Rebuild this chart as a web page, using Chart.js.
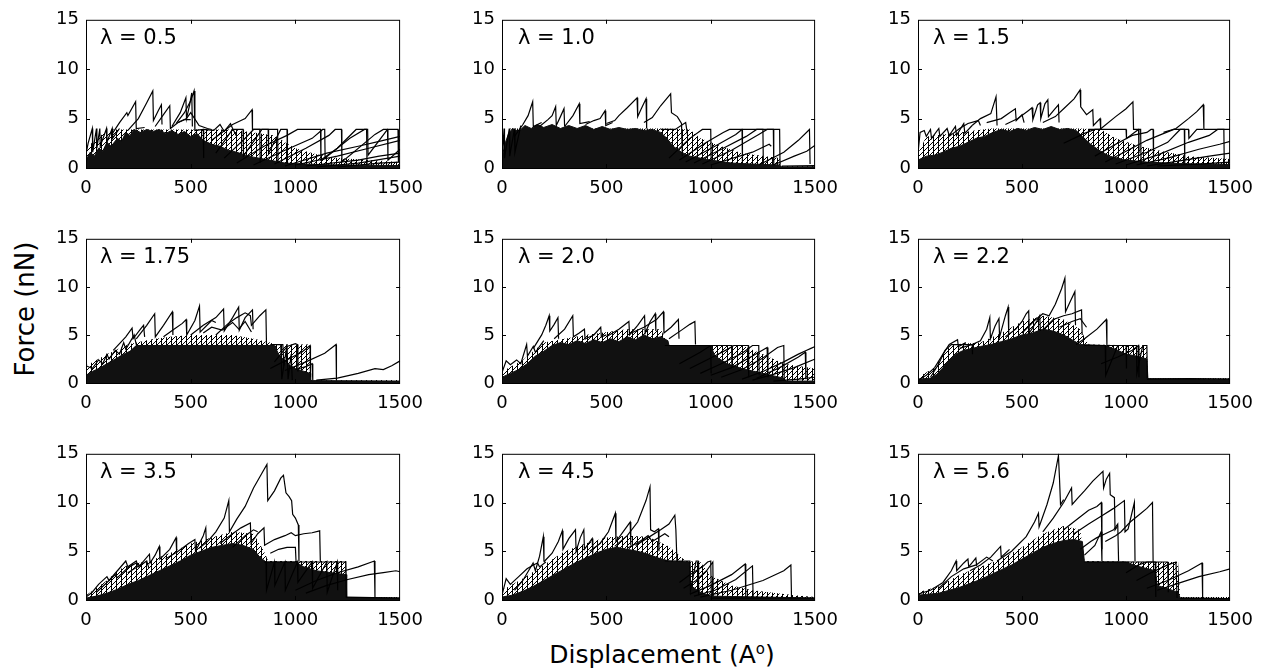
<!DOCTYPE html>
<html>
<head>
<meta charset="utf-8">
<script src="https://cdn.jsdelivr.net/npm/chart.js@4.4.1/dist/chart.umd.min.js"></script>
<style>
  body { margin: 0; background: #fff; width: 1266px; height: 670px; position: relative; overflow: hidden;
         font-family: "DejaVu Sans", sans-serif; color: #000; }
  canvas { position: absolute; }
  .lam { position: absolute; font-size: 21px; line-height: 21px; white-space: nowrap; }
  #ylab { position: absolute; left: 25px; top: 309px; font-size: 26px; line-height: 26px; white-space: nowrap;
          transform: translate(-50%, -50%) rotate(-90deg); }
  #xlab { position: absolute; left: 662px; top: 642px; font-size: 25px; line-height: 25px; white-space: nowrap;
          transform: translateX(-50%); }
  #xlab sup { font-size: 15px; vertical-align: 9px; line-height: 0; }
</style>
</head>
<body>
<div id="ylab">Force (nN)</div>
<div id="xlab">Displacement (A<sup>o</sup>)</div>
<script>
const xTicks = [0, 500, 1000, 1500];
const yTicks = [0, 5, 10, 15];
const lambdas = ['0.5', '1.0', '1.5', '1.75', '2.0', '2.2', '3.5', '4.5', '5.6'];

// upper edge of the solid black mass of overlapping curves: x, F, x, F ...
const dense05 = [0,0.8, 20,1.6, 40,1.2, 60,2.0, 80,1.7, 100,2.6, 120,2.2, 150,3.0, 170,2.7, 190,3.6, 210,3.3, 230,3.9, 260,3.6, 290,3.9, 320,3.7, 350,3.9, 380,3.5, 410,3.8, 440,3.4, 470,3.7, 500,3.2, 530,3.5, 560,2.8, 600,2.4, 640,2.2, 680,1.8, 720,1.6, 760,1.3, 800,1.1, 850,0.9, 900,0.7, 950,0.5, 1050,0.4, 1200,0.3, 1500,0.25];
const dense10 = [0,1.0, 15,2.5, 30,3.4, 50,4.0, 80,3.7, 110,4.3, 140,4.0, 170,4.4, 200,4.1, 240,4.4, 280,4.0, 320,4.3, 360,4.0, 400,4.3, 440,3.9, 480,4.2, 520,3.9, 560,4.1, 600,3.9, 640,4.0, 680,3.8, 720,3.9, 760,3.6, 790,3.0, 820,2.2, 860,1.6, 900,1.2, 1000,0.8, 1100,0.5, 1200,0.4, 1330,0.3, 1340,0.12, 1500,0.12];
const dense15 = [0,0.8, 40,1.2, 80,1.3, 120,1.6, 160,2.0, 200,2.2, 240,2.6, 280,3.0, 320,3.2, 360,3.6, 400,3.9, 440,3.7, 480,4.0, 520,3.8, 560,4.1, 600,3.9, 640,4.2, 680,3.9, 720,4.0, 760,3.8, 790,3.2, 830,2.4, 870,1.8, 920,1.2, 1000,0.8, 1100,0.6, 1250,0.45, 1500,0.35];
const dense175 = [0,0.8, 30,1.2, 60,1.5, 100,2.0, 140,2.5, 180,3.0, 210,3.3, 240,3.9, 900,3.9, 920,3.0, 960,2.0, 1000,1.5, 1070,1.0, 1073,0.25, 1500,0.2];
const dense20 = [0,0.6, 40,1.0, 80,1.4, 120,2.0, 160,2.8, 200,3.3, 240,3.9, 280,4.2, 320,4.0, 360,4.4, 400,4.1, 440,4.5, 480,4.2, 520,4.6, 560,4.3, 600,4.8, 640,4.5, 680,5.0, 720,4.6, 760,4.8, 795,4.4, 800,3.9, 1000,3.9, 1020,2.8, 1080,2.0, 1150,1.5, 1250,1.0, 1350,0.5, 1360,0.2, 1500,0.2];
const dense22 = [0,0.4, 60,0.5, 90,0.9, 120,1.6, 150,2.4, 180,3.0, 220,3.4, 260,3.6, 300,3.8, 350,4.0, 400,4.3, 450,4.6, 500,5.0, 550,5.2, 600,5.6, 650,5.4, 700,5.0, 740,4.5, 780,4.0, 900,3.9, 950,3.5, 1000,3.0, 1050,2.8, 1100,2.5, 1105,0.45, 1500,0.4];
const dense35 = [0,0.2, 50,0.4, 100,0.7, 150,1.1, 200,1.6, 250,2.0, 300,2.5, 350,3.0, 400,3.5, 450,4.0, 500,4.6, 550,5.0, 600,5.4, 650,5.6, 700,5.8, 750,5.6, 800,5.2, 830,4.4, 860,3.9, 1000,3.9, 1040,3.4, 1100,3.0, 1243,2.6, 1245,0.25, 1500,0.2];
const dense45 = [0,0.3, 50,0.5, 100,0.9, 150,1.4, 200,2.0, 250,2.6, 300,3.2, 350,3.8, 400,4.3, 450,4.8, 500,5.2, 550,5.4, 600,5.2, 650,5.0, 700,4.7, 750,4.3, 800,4.0, 900,3.9, 903,1.5, 950,0.8, 1000,0.4, 1500,0.2];
const dense56 = [0,0.5, 100,0.7, 150,1.0, 200,1.3, 250,1.7, 300,2.1, 350,2.6, 400,3.1, 450,3.6, 500,4.2, 550,4.8, 600,5.4, 650,5.8, 700,6.1, 750,6.2, 790,6.0, 800,3.9, 1000,3.9, 1050,3.5, 1140,3.0, 1150,1.5, 1250,0.8, 1260,0.2, 1500,0.15];

// upper edge of the looser zone of crossing lines
const loose05 = [0,2.0, 60,3.2, 120,3.9, 700,3.9, 800,3.6, 900,3.3, 950,2.6, 1000,2.0, 1100,1.4, 1200,1.0, 1350,0.8, 1500,0.6];
const loose10 = [0,1.5, 40,4.0, 780,4.0, 900,3.9, 950,3.0, 1050,2.2, 1150,1.5, 1330,1.0, 1335,0.2, 1500,0.2];
const loose15 = [0,1.5, 40,3.2, 200,3.6, 350,4.0, 780,4.0, 880,3.9, 950,3.0, 1050,2.3, 1150,1.8, 1300,1.2, 1500,0.9];
const loose175 = [0,1.8, 100,3.0, 200,4.0, 300,4.5, 400,4.8, 500,5.0, 600,5.0, 700,5.0, 800,4.6, 880,4.2, 900,4.0, 1070,4.0, 1073,0.3, 1500,0.3];
const loose20 = [0,1.2, 100,2.4, 200,4.2, 400,5.0, 600,5.6, 760,5.6, 800,3.9, 1150,3.9, 1250,3.0, 1350,2.0, 1500,1.5];
const loose22 = [0,0.6, 80,1.6, 130,3.2, 160,4.0, 300,4.2, 400,5.2, 500,6.4, 600,7.0, 700,6.6, 780,5.6, 820,4.0, 1100,3.9, 1105,0.5, 1500,0.5];
const loose35 = [0,0.5, 100,2.0, 150,3.0, 200,3.6, 300,4.0, 400,4.8, 500,5.8, 600,6.4, 700,7.0, 800,6.8, 850,5.0, 870,4.0, 1243,4.0, 1245,0.3, 1500,0.3];
const loose45 = [0,1.0, 100,2.2, 200,3.6, 300,5.0, 400,5.8, 500,6.4, 600,6.6, 700,6.5, 800,5.5, 880,4.0, 950,3.9, 1000,2.5, 1100,1.5, 1200,1.0, 1400,0.5, 1500,0.3];
const loose56 = [0,0.8, 100,1.4, 200,2.6, 300,3.4, 400,4.2, 500,5.4, 600,6.8, 700,7.6, 780,7.2, 800,4.0, 1140,3.9, 1250,3.9, 1260,0.3, 1500,0.3];

// single sawtooth traces that stand out of the mass
const saw05 = [
  [0,1.4, 10,2.5, 30,4.0, 32,1.6, 50,4.0, 52,2.0, 66,4.0, 68,2.2, 98,4.0, 100,2.6, 125,4.0, 127,3.0, 160,4.0],
  [120,3.3, 160,4.6, 195,5.6, 200,5.3, 237,6.7, 240,4.0, 280,4.1],
  [200,3.8, 250,5.0, 290,6.6, 319,7.8, 322,4.8, 345,5.8, 360,6.4, 363,4.4],
  [330,4.2, 370,5.4, 400,6.3, 403,4.0, 440,4.6, 470,4.9, 500,4.9],
  [410,4.2, 450,5.6, 477,7.1, 480,5.0, 495,6.4, 505,7.6, 508,4.2],
  [430,4.5, 470,5.6, 500,6.8, 516,7.8, 520,3.8, 560,3.9, 562,1.0],
  [440,4.6, 480,5.0, 500,5.6, 540,4.3, 580,4.0, 600,3.9],
  [560,3.9, 610,3.8, 640,4.4, 660,3.7, 690,4.5, 700,4.0, 720,3.2],
  [600,2.8, 650,3.6, 700,4.4, 740,4.8, 760,5.0, 793,5.9, 795,3.9, 830,3.9, 832,0.5],
  [620,1.5, 700,3.9, 750,3.9, 752,1.2, 840,3.9, 915,3.9, 917,0.5],
  [660,1.0, 760,3.0, 800,3.9, 870,3.9, 872,1.5, 930,3.9, 960,3.9, 962,0.4],
  [720,0.5, 850,2.2, 960,3.3, 1010,3.9, 1120,3.9, 1122,0.8, 1200,2.0, 1290,3.9, 1340,3.9, 1342,0.3],
  [800,0.3, 950,1.8, 1080,3.0, 1130,3.9, 1140,3.9, 1142,1.0, 1260,3.0, 1330,3.9, 1345,3.9, 1347,1.3, 1440,3.9, 1490,3.9, 1492,0.6],
  [900,0.4, 1050,2.0, 1160,3.3, 1190,3.9, 1220,3.9, 1222,0.6, 1380,3.4, 1420,3.9, 1440,3.9, 1442,0.8, 1500,1.9],
  [950,0.2, 1150,1.5, 1300,2.2, 1400,2.7, 1500,3.2],
  [1000,0.3, 1200,1.2, 1350,2.0, 1500,2.8],
  [1050,0.2, 1300,0.8, 1400,1.2, 1500,1.5],
  [1100,0.1, 1300,0.5, 1500,1.2],
  [1200,0.1, 1400,0.5, 1500,0.6]
];
const saw10 = [
  [0,0.8, 10,4.0, 12,1.0, 35,4.0, 37,1.2, 60,4.0, 62,1.6, 90,4.3],
  [60,3.2, 100,4.4, 125,5.3, 147,6.7, 150,4.2, 190,4.6],
  [180,4.2, 220,4.9, 240,5.3, 257,6.2, 260,4.3, 280,5.2, 297,6.0, 300,4.2],
  [300,4.2, 340,5.3, 370,6.5, 373,4.5, 420,4.7],
  [400,4.4, 440,4.8, 470,5.0, 494,5.8, 497,4.3, 530,4.6],
  [500,4.5, 540,4.8, 560,5.3, 600,6.1, 647,7.1, 650,5.2, 665,5.9, 690,7.0, 693,4.0],
  [680,4.6, 720,5.1, 760,6.3, 808,7.5, 812,5.6, 840,5.2, 860,4.5, 864,1.2],
  [760,3.9, 830,3.9, 880,4.6, 890,3.2],
  [800,1.0, 900,3.0, 960,3.9, 1000,3.9, 1002,0.8],
  [850,0.8, 980,2.6, 1060,3.6, 1090,3.9, 1150,3.9, 1152,0.6],
  [880,0.6, 1020,2.2, 1120,3.4, 1150,3.9, 1250,3.9, 1252,0.4],
  [920,0.5, 1060,2.0, 1170,3.2, 1220,3.9, 1330,3.9, 1332,0.3],
  [960,0.4, 1100,1.8, 1230,3.4, 1270,3.9, 1300,3.9, 1302,0.3],
  [1000,0.3, 1200,1.6, 1280,2.4, 1290,2.2],
  [1230,0.3, 1350,1.6, 1420,2.8, 1473,3.9, 1476,0.4],
  [1300,0.3, 1400,1.2, 1460,1.7, 1500,2.3],
  [1340,0.2, 1500,0.25]
];
const saw15 = [
  [0,1.5, 10,3.6, 30,3.8, 40,3.2, 60,3.9, 65,3.0, 100,4.0, 105,3.2, 140,4.0, 150,3.3, 180,4.2, 185,3.3, 220,4.5, 225,3.5, 260,4.3],
  [150,3.2, 200,4.0, 240,4.5, 290,4.8, 300,4.3],
  [260,4.3, 300,5.0, 350,5.5, 375,7.2, 380,4.3],
  [330,4.6, 400,5.0, 440,5.6, 468,6.0, 472,4.8, 500,5.4, 510,4.6],
  [420,4.4, 480,5.0, 530,5.8, 548,6.1, 552,4.9, 575,6.4, 587,6.6, 590,5.0, 610,6.5, 624,6.9, 627,5.2, 655,5.9, 675,6.4, 678,4.6],
  [600,4.6, 660,5.2, 700,6.0, 750,7.0, 779,7.9, 782,6.2, 810,5.4, 840,5.9, 843,4.3, 875,5.0, 878,3.9],
  [820,3.9, 870,3.9, 880,4.0, 950,5.2, 1000,6.0, 1033,6.7, 1036,3.9, 1060,3.9, 1062,1.5],
  [700,2.5, 800,3.5, 850,3.9, 1000,3.9, 1002,3.0, 1060,3.9, 1070,3.9, 1072,0.4],
  [850,1.2, 950,2.4, 1030,3.3, 1100,3.6, 1120,3.9, 1130,3.9, 1132,0.8],
  [900,0.6, 1000,1.7, 1100,2.8, 1170,3.4, 1230,3.9, 1280,3.9, 1282,0.4],
  [950,0.4, 1100,1.6, 1200,2.6, 1260,3.9, 1300,3.9, 1302,3.0, 1340,3.9, 1370,3.9],
  [1180,3.6, 1240,4.0, 1300,5.0, 1340,5.7, 1371,6.4, 1374,3.9, 1470,3.9, 1472,0.3],
  [1000,0.3, 1150,1.3, 1300,2.6, 1400,3.3, 1440,3.9, 1500,3.9],
  [1050,0.3, 1200,1.0, 1350,1.9, 1450,2.4, 1500,2.7],
  [1100,0.2, 1250,0.7, 1400,1.2, 1500,1.5],
  [1150,0.2, 1350,0.4, 1500,0.6]
];
const saw175 = [
  [0,1.8, 30,1.5, 60,2.4, 80,2.0, 100,3.0, 110,2.5, 140,3.4, 160,3.0, 180,4.2, 190,3.5, 230,5.0, 240,4.0],
  [130,3.4, 190,4.8, 220,5.7, 225,4.6, 260,5.6, 275,6.0, 280,4.8],
  [240,4.6, 290,6.0, 328,7.2, 331,4.8, 370,6.0, 412,7.4, 415,5.0],
  [370,4.8, 420,5.6, 460,6.2, 478,6.6, 481,5.0, 520,6.5, 542,8.0, 545,5.3, 600,6.5, 620,6.3],
  [500,5.0, 560,6.0, 620,6.8, 657,7.7, 660,5.4, 700,6.8, 729,7.9, 732,5.5, 760,6.8, 795,7.6, 798,5.6],
  [620,5.0, 680,6.2, 720,6.8, 760,7.3, 785,7.0, 790,6.0, 830,7.0, 859,7.6, 862,4.0],
  [560,5.2, 600,5.8, 650,5.5, 700,6.3, 730,5.6, 760,6.4, 790,5.3],
  [880,4.0, 940,4.0, 945,1.8],
  [900,2.2, 960,3.8, 1000,4.1, 1010,4.0, 1012,1.2],
  [880,1.5, 950,2.3, 1030,3.2, 1070,3.9, 1072,0.6],
  [950,1.3, 1050,2.2, 1140,3.1, 1194,4.0, 1196,0.3],
  [1000,1.4, 1050,1.7, 1080,2.0, 1083,0.3],
  [930,4.0, 935,0.4, 960,4.0, 965,0.4, 980,3.0, 985,0.3],
  [1100,0.3, 1200,0.5, 1300,1.0, 1380,1.5, 1420,1.4, 1460,1.8, 1500,2.3]
];
const saw20 = [
  [0,1.1, 20,2.3, 40,1.9, 70,2.4, 90,2.0, 118,4.0, 122,2.8, 150,3.8, 160,3.2, 200,4.4],
  [150,3.6, 190,5.0, 210,6.0, 226,7.0, 229,5.4, 250,6.1, 268,6.8, 271,4.6],
  [250,4.6, 300,5.6, 339,7.0, 342,4.8, 370,5.2, 395,5.6, 398,4.5],
  [400,4.6, 440,5.0, 473,5.8, 476,4.8, 500,5.0],
  [500,4.8, 560,5.6, 608,6.4, 611,5.0, 650,6.0, 683,7.0, 686,5.2, 710,6.4, 734,7.2, 737,5.4],
  [620,5.2, 680,5.8, 740,6.6, 773,7.4, 776,5.2, 810,5.8, 845,6.6, 848,4.6],
  [800,4.6, 860,5.5, 900,6.1, 924,6.4, 927,4.0],
  [780,3.9, 1000,3.9, 1002,1.0],
  [850,2.0, 950,3.2, 1000,3.9, 1100,3.9, 1102,1.6],
  [900,1.5, 1000,2.6, 1080,3.5, 1110,3.9, 1180,3.9, 1182,0.6],
  [950,1.0, 1050,2.0, 1150,3.1, 1200,3.9, 1230,3.9, 1232,0.8],
  [1000,0.8, 1100,1.6, 1200,2.8, 1270,3.7, 1274,0.6],
  [1050,0.6, 1150,1.4, 1250,2.6, 1320,3.7, 1350,3.9, 1352,0.3],
  [1150,0.4, 1250,1.2, 1350,2.2, 1420,3.0, 1460,3.4, 1480,3.6, 1500,3.8],
  [1200,0.3, 1300,0.9, 1400,1.6, 1500,2.5],
  [1220,0.5, 1330,1.6, 1420,2.7, 1453,3.2, 1456,0.4],
  [1300,0.2, 1420,0.4, 1500,0.6]
];
const saw22 = [
  [0,0.3, 40,0.8, 80,1.6, 120,3.0, 150,4.0, 190,4.5, 194,3.8, 230,4.2],
  [60,0.6, 100,2.0, 130,3.4, 160,4.0, 260,4.0, 262,3.0],
  [200,3.6, 260,4.0, 300,4.4, 330,5.6, 345,6.8, 348,4.6, 370,5.9, 389,6.7, 392,4.8, 420,7.0, 433,7.9, 436,5.0],
  [420,4.8, 470,5.6, 500,6.4, 520,7.2, 532,7.5, 535,5.2, 570,6.4, 585,7.0, 588,5.4],
  [500,5.2, 560,6.5, 600,7.2, 630,7.0, 660,8.2, 690,9.8, 706,10.9, 709,7.4, 730,8.4, 754,9.5, 757,6.0],
  [600,5.5, 650,6.6, 700,7.0, 740,7.2, 786,7.6, 789,5.0],
  [680,5.8, 740,6.4, 780,6.7, 810,5.8],
  [760,4.0, 800,4.6, 860,5.6, 905,6.6, 908,3.9, 1000,3.9, 1002,1.5],
  [800,3.9, 900,3.9, 902,0.8, 960,3.9, 1050,3.9, 1052,1.0, 1080,3.9, 1100,3.9, 1102,0.5],
  [880,2.0, 960,2.7, 1030,3.4, 1060,3.9, 1062,0.6],
  [1100,0.4, 1300,0.45, 1500,0.4]
];
const saw35 = [
  [0,0.3, 30,0.8, 60,1.6, 100,2.4, 110,2.0, 150,3.0, 190,4.0, 200,3.4, 240,4.0, 250,3.4, 290,4.0, 300,3.3],
  [50,0.8, 100,1.8, 140,2.6, 150,2.3, 200,3.3, 240,3.8, 260,3.5],
  [200,2.8, 260,3.6, 303,4.7, 306,3.8, 330,4.6, 350,5.5, 353,4.2, 400,5.2, 430,6.4, 433,4.8],
  [380,4.2, 440,5.0, 490,5.8, 520,6.2, 523,5.0, 560,6.6, 572,7.4, 575,5.6],
  [540,5.3, 580,6.0, 620,7.0, 660,8.4, 682,10.2, 685,7.0, 720,8.3, 760,9.6, 800,11.5, 840,13.0, 864,13.9, 868,10.2, 900,11.2, 930,12.5, 943,12.8, 955,11.0, 970,10.6, 982,10.2, 987,8.8, 1000,8.4, 1014,7.7, 1017,4.0],
  [640,5.8, 700,6.8, 740,7.4, 785,7.9, 788,5.8, 820,6.8, 850,7.4, 853,5.6],
  [700,5.4, 760,6.6, 800,7.2, 820,7.0],
  [850,5.6, 900,6.2, 950,6.6, 980,6.9, 1000,6.6, 1040,6.8, 1080,6.9, 1116,7.1, 1119,4.0],
  [880,4.8, 920,5.2, 960,5.4, 1000,5.4, 1003,4.0],
  [850,3.9, 1240,3.9, 1243,0.3],
  [860,3.9, 862,1.0, 900,3.9, 902,1.5, 950,3.9, 952,1.0, 1010,3.9, 1012,1.8, 1080,3.9, 1082,1.2, 1150,3.9, 1152,0.8, 1200,3.9, 1202,1.0],
  [1000,1.0, 1100,2.0, 1200,2.8, 1300,3.4, 1377,4.0, 1380,0.3],
  [1050,0.7, 1150,1.5, 1250,2.1, 1350,2.6, 1420,2.8, 1480,3.0, 1500,2.9],
  [1240,0.3, 1500,0.2]
];
const saw45 = [
  [0,0.5, 20,2.2, 40,1.6, 80,2.4, 120,3.2, 150,3.6, 170,3.8, 180,3.4, 210,3.9],
  [60,1.0, 100,2.0, 149,3.8, 160,3.0, 180,4.5, 198,6.5, 201,4.0],
  [200,3.9, 240,4.8, 270,6.0, 289,7.1, 292,5.2, 320,6.3, 352,7.2, 355,5.0, 375,6.4, 392,7.2, 395,5.2, 432,6.3, 435,4.8],
  [420,5.0, 470,5.8, 510,7.0, 543,8.9, 546,6.0, 580,7.0, 614,8.0, 617,5.6],
  [540,5.5, 600,6.6, 650,8.0, 690,10.2, 709,11.6, 712,7.2, 730,7.0, 749,7.3, 752,5.0],
  [640,5.6, 700,6.4, 760,7.2, 800,7.8, 828,8.7, 833,7.2, 838,4.0],
  [600,5.3, 660,6.0, 700,6.6, 720,6.0, 780,6.8, 800,6.5],
  [780,4.0, 900,4.0, 903,1.0, 930,4.0, 940,4.0, 942,0.5],
  [850,1.8, 900,2.6, 960,3.4, 985,3.9, 1000,4.0, 1003,0.4],
  [870,1.2, 930,2.0, 980,3.0, 1010,3.9, 1012,0.4],
  [900,0.6, 1000,1.5, 1100,2.6, 1165,3.7, 1168,0.3],
  [920,0.4, 1020,1.0, 1120,2.1, 1200,3.5, 1203,0.3],
  [950,0.3, 1100,1.0, 1250,2.0, 1350,3.0, 1384,3.6, 1387,0.2],
  [1000,0.2, 1500,0.2]
];
const saw56 = [
  [0,0.6, 60,1.0, 120,1.8, 160,3.0, 183,4.0, 186,3.0, 220,3.8, 240,4.2, 244,3.4, 278,4.3, 282,3.5],
  [100,1.2, 160,2.4, 220,3.2, 280,3.6, 330,4.4, 360,4.0],
  [250,3.0, 300,3.6, 350,4.4, 397,5.5, 400,4.4, 440,5.2],
  [380,4.0, 450,5.0, 520,6.5, 560,8.0, 579,8.9, 582,7.5, 620,9.8, 650,12.0, 675,14.8, 680,12.5, 685,9.8, 700,10.3],
  [600,7.0, 650,8.4, 700,10.0, 738,11.5, 741,9.8, 770,10.5, 800,11.2, 840,12.2, 889,13.2, 892,11.5, 905,12.4, 921,13.0, 924,10.8, 944,10.5, 947,7.2, 960,7.6],
  [700,7.2, 760,8.2, 820,9.2, 860,9.6, 881,10.0, 884,5.2],
  [750,6.8, 820,7.8, 880,8.6, 940,9.4, 992,10.2, 995,7.0, 1010,7.3, 1040,10.0, 1043,4.0],
  [900,6.0, 950,6.6, 976,7.0, 1020,8.0, 1060,8.7, 1100,9.4, 1127,10.0, 1130,3.9],
  [800,4.6, 850,5.6, 880,7.0, 884,4.0],
  [780,5.2, 830,6.0, 860,6.4, 900,6.8, 940,7.2, 960,7.8, 964,4.0],
  [800,3.9, 1140,3.9, 1143,0.3],
  [1000,2.8, 1060,3.6, 1100,3.9, 1200,3.9, 1203,0.8],
  [1050,2.0, 1120,2.8, 1200,3.6, 1240,3.9, 1245,0.2],
  [1100,1.2, 1200,2.0, 1300,3.0, 1365,3.8, 1368,0.2],
  [1150,1.0, 1250,1.7, 1350,2.4, 1450,2.9, 1500,3.2],
  [1260,0.2, 1500,0.15]
];

const denses = [dense05, dense10, dense15, dense175, dense20, dense22, dense35, dense45, dense56];
const looses = [loose05, loose10, loose15, loose175, loose20, loose22, loose35, loose45, loose56];
const saws = [saw05, saw10, saw15, saw175, saw20, saw22, saw35, saw45, saw56];

// plot-area edges in page pixels
const colLeft = [86, 502, 918], colRight = [403, 818, 1233];
const rowTop = [16, 235, 450], rowBottom = [168, 383, 600];
const lamShift = [14, 16, 15];
const AX_W = 50, AX_H = 35, PAD_T = 14, PAD_R = 30;

const toPoints = arr => {
    const out = [];
    for (let i = 0; i < arr.length; i += 2) out.push({x: arr[i], y: arr[i + 1]});
    return out;
};

// hatch that looks like many vertical drops crossed by rising ramps
function hatchPattern() {
    const tile = document.createElement('canvas');
    tile.width = 5;
    tile.height = 5;
    const g = tile.getContext('2d');
    g.strokeStyle = '#000';
    g.lineWidth = 1;
    g.beginPath();
    g.moveTo(0.5, 0); g.lineTo(0.5, 5);
    g.moveTo(0, 5); g.lineTo(5, 0);
    g.stroke();
    return g.createPattern(tile, 'repeat');
}
const hatch = hatchPattern();

// MATLAB style box with inward ticks on all four sides
const frame = {
    id: 'frame',
    afterDraw(chart) {
        const {ctx, chartArea: a, scales: {x, y}} = chart;
        ctx.save();
        ctx.strokeStyle = '#000';
        ctx.lineWidth = 1;
        ctx.strokeRect(a.left + 0.5, a.top + 0.5, a.right - a.left - 1, a.bottom - a.top);
        ctx.beginPath();
        xTicks.slice(1, -1).forEach(v => {
            const px = Math.round(x.getPixelForValue(v)) + 0.5;
            ctx.moveTo(px, a.bottom); ctx.lineTo(px, a.bottom - 4);
            ctx.moveTo(px, a.top); ctx.lineTo(px, a.top + 4);
        });
        yTicks.slice(1, -1).forEach(v => {
            const py = Math.round(y.getPixelForValue(v)) + 0.5;
            ctx.moveTo(a.left, py); ctx.lineTo(a.left + 4, py);
            ctx.moveTo(a.right, py); ctx.lineTo(a.right - 4, py);
        });
        ctx.stroke();
        ctx.restore();
    }
};

const tickFont = {family: '"DejaVu Sans", sans-serif', size: 18};

lambdas.forEach((lam, i) => {
    const c = i % 3, r = Math.floor(i / 3);
    const L = colLeft[c], R = colRight[c], T = rowTop[r], B = rowBottom[r];

    const cv = document.createElement('canvas');
    cv.width = R - L + AX_W + PAD_R;
    cv.height = B - T + PAD_T + AX_H;
    cv.style.left = (L - AX_W) + 'px';
    cv.style.top = (T - PAD_T) + 'px';
    document.body.appendChild(cv);

    const lab = document.createElement('div');
    lab.className = 'lam';
    lab.textContent = 'λ = ' + lam;
    lab.style.left = (L + lamShift[c]) + 'px';
    lab.style.top = (T + 11) + 'px';
    document.body.appendChild(lab);

    const datasets = saws[i].map(s => ({
        data: toPoints(s),
        borderColor: '#000',
        borderWidth: 1.2,
        pointRadius: 0,
        fill: false
    }));
    // drawn bottom-up: loose zone, then the black core, then the single traces
    datasets.push({
        data: toPoints(denses[i]),
        borderColor: '#111',
        backgroundColor: '#111',
        borderWidth: 1,
        pointRadius: 0,
        fill: 'origin'
    });
    datasets.push({
        data: toPoints(looses[i]),
        borderColor: 'rgba(0,0,0,0)',
        backgroundColor: hatch,
        borderWidth: 0,
        pointRadius: 0,
        fill: 'origin'
    });

    new Chart(cv, {
        type: 'line',
        data: {datasets},
        options: {
            responsive: false,
            animation: false,
            events: [],
            layout: {padding: {top: PAD_T, right: PAD_R, left: 0, bottom: 0}},
            plugins: {legend: {display: false}, tooltip: {enabled: false}},
            elements: {line: {tension: 0}},
            scales: {
                x: {
                    type: 'linear', min: 0, max: 1500,
                    afterBuildTicks: s => { s.ticks = xTicks.map(v => ({value: v})); },
                    afterFit: s => { s.height = AX_H; },
                    grid: {display: false, drawTicks: false},
                    border: {display: false},
                    ticks: {color: '#000', font: tickFont, padding: 10, maxRotation: 0, callback: v => String(v)}
                },
                y: {
                    type: 'linear', min: 0, max: 15,
                    afterBuildTicks: s => { s.ticks = yTicks.map(v => ({value: v})); },
                    afterFit: s => { s.width = AX_W; },
                    grid: {display: false, drawTicks: false},
                    border: {display: false},
                    ticks: {color: '#000', font: tickFont, padding: 7, callback: v => String(v)}
                }
            }
        },
        plugins: [frame]
    });
});
</script>
</body>
</html>
